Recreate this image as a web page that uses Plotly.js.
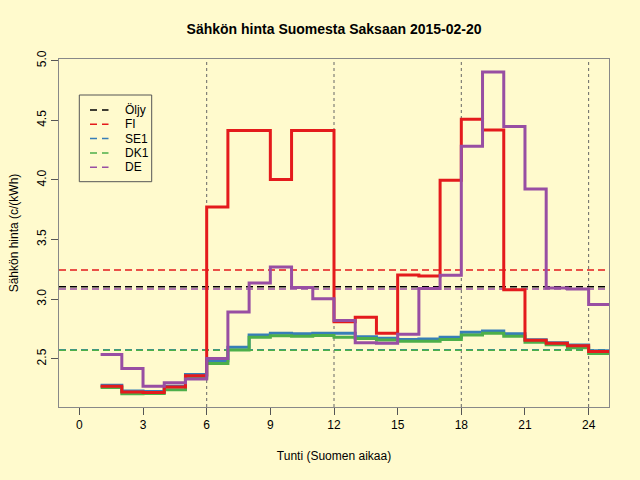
<!DOCTYPE html>
<html>
<head>
<meta charset="utf-8">
<script src="https://cdn.plot.ly/plotly-3.0.1.min.js"></script>
<style>
  html, body { margin:0; padding:0; background:#FFFACD; }
  #chart { width:640px; height:480px; }
</style>
</head>
<body>
<div id="chart"></div>
<script>
// hourly prices c/kWh, hour k drawn from k to k+1
const hours = [1,2,3,4,5,6,7,8,9,10,11,12,13,14,15,16,17,18,19,20,21,22,23,24];
const fi  = [2.27,2.222,2.217,2.264,2.357,3.772,4.415,4.415,4.003,4.415,4.415,2.81,2.849,2.714,3.202,3.194,3.997,4.508,4.418,3.079,2.655,2.63,2.61,2.562];
const se1 = [2.278,2.23,2.225,2.27,2.369,2.483,2.596,2.70,2.714,2.71,2.714,2.714,2.685,2.672,2.663,2.666,2.68,2.722,2.733,2.71,2.66,2.635,2.615,2.567];
const dk1 = [2.259,2.208,2.21,2.24,2.34,2.46,2.573,2.68,2.694,2.69,2.695,2.68,2.67,2.658,2.647,2.647,2.663,2.70,2.714,2.69,2.638,2.618,2.593,2.545];
const de  = [2.537,2.419,2.27,2.30,2.33,2.503,2.893,3.135,3.27,3.098,3.003,2.822,2.635,2.63,2.705,3.09,3.20,4.283,4.905,4.449,3.924,3.093,3.085,2.955];

// daily averages (dashed lines)
const meanNames  = ['Öljy','FI','SE1','DK1','DE'];
const meanValues = [3.104,3.245,2.575,2.571,3.085];
const colors     = ['#000000','#E41A1C','#377EB8','#4DAF4A','#984EA3'];

const xTicks = [0,3,6,9,12,15,18,21,24];
const vLines = [6,12,18,24];
const xRange = [-0.96,24.96];
const yRange = [2.096,5.014];

const bg = '#FFFACD';
const font = 'Liberation Sans, Arial, sans-serif';

function stepTrace(vals, color){
  return { type:'scatter', mode:'lines', x: hours.concat([hours[hours.length-1]+1]), y: vals.concat([vals[vals.length-1]]),
    line:{ shape:'hv', color: color, width:3 }, showlegend:false, hoverinfo:'skip' };
}

const traces = meanNames.map(function(n,i){
  return { type:'scatter', mode:'lines', name:n, x:xRange, y:[meanValues[i],meanValues[i]],
    line:{ color:colors[i], width:1.5, dash:'7px,4px' }, showlegend:false };
});
traces.push(stepTrace(se1, colors[2]));
traces.push(stepTrace(dk1, colors[3]));
traces.push(stepTrace(fi, colors[1]));
traces.push(stepTrace(de, colors[4]));

const shapes = vLines.map(function(v){
  return { type:'line', xref:'x', yref:'paper', x0:v, x1:v, y0:0, y1:1, line:{ color:'#666', width:1, dash:'dot' }, layer:'below' };
});

// legend box drawn like base R legend()
const plotW = 550, plotH = 348;
function px(x){ return x/plotW; }
function py(y){ return 1 - y/plotH; }
const annotations = [];
shapes.push({ type:'rect', xref:'paper', yref:'paper', x0:px(20.3), x1:px(92.7), y0:py(122.7), y1:py(36),
  line:{ color:'#555', width:1 }, fillcolor:bg });
meanNames.forEach(function(n,i){
  const yy = py(51 + 14.3*i);
  shapes.push({ type:'line', xref:'paper', yref:'paper', x0:px(31), x1:px(49.5), y0:yy, y1:yy,
    line:{ color:colors[i], width:1.5, dash:'7px,5px' } });
  annotations.push({ xref:'paper', yref:'paper', x:px(63.5), y:yy, xanchor:'left', yanchor:'middle',
    text:n, showarrow:false, font:{ size:12, color:'#000' } });
});

const layout = {
  width:640, height:480,
  paper_bgcolor:bg, plot_bgcolor:bg,
  margin:{ l:59, r:31, t:59, b:73, pad:0 },
  font:{ family:font, size:12, color:'#000' },
  title:{ text:'<b>Sähkön hinta Suomesta Saksaan 2015-02-20</b>', font:{ size:14 }, x:0.522, xanchor:'center', y:0.94, yanchor:'middle' },
  xaxis:{ range:xRange, tickvals:xTicks, ticks:'outside', ticklen:7, tickcolor:'#555', showgrid:false, zeroline:false,
    showline:true, linecolor:'#888', mirror:true, title:{ text:'Tunti (Suomen aikaa)', font:{ size:12 }, standoff:20 } },
  yaxis:{ range:yRange, dtick:0.5, tick0:0, tickformat:'.1f', tickangle:-90, ticks:'outside', ticklen:7, tickcolor:'#555',
    showgrid:false, zeroline:false, showline:true, linecolor:'#888', mirror:true,
    title:{ text:'Sähkön hinta (c/(kWh)', font:{ size:12 }, standoff:14 } },
  shapes: shapes,
  annotations: annotations,
  showlegend:false
};

Plotly.newPlot('chart', traces, layout, { displayModeBar:false, staticPlot:true });
</script>
</body>
</html>
